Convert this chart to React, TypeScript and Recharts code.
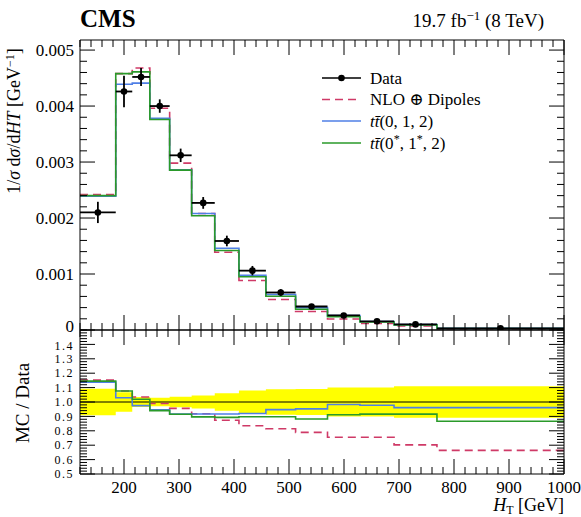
import React from 'react';
import { ComposedChart, Line, Scatter, XAxis, YAxis, ErrorBar, Area, ReferenceLine } from 'recharts';

// ---------- data ----------
const binEdges = [120, 185, 215, 247, 283, 323, 365, 409, 458, 512, 570, 629, 691, 769, 1000];

const dataValues = [0.0021, 0.00426, 0.00452, 0.004, 0.00312, 0.00227, 0.00159, 0.00106, 0.00067, 0.00042, 0.00026, 0.000155, 0.0001, 0.00003];
const dataErrors = [0.00019, 0.00028, 0.00016, 0.00012, 0.00012, 0.000105, 0.000095, 0.000084, 0.000059, 0.000038, 0.000026, 0.0000155, 0.000011, 0.0000033];

const nloDipoles = [0.00242, 0.00458, 0.00468, 0.00396, 0.00298, 0.00208, 0.00139, 0.000885, 0.000545, 0.000331, 0.000196, 0.000117, 0.0000702, 0.00002];
const ttbar012 = [0.00239, 0.00439, 0.00441, 0.00378, 0.00286, 0.00208, 0.00146, 0.000975, 0.000634, 0.0004, 0.000256, 0.000151, 0.0000961, 0.0000288];
const ttbar0s1s2 = [0.0024, 0.00458, 0.00461, 0.00376, 0.002855, 0.00204, 0.00142, 0.000952, 0.000602, 0.00037, 0.000237, 0.000142, 0.0000916, 0.000026];

const ratioBand = [0.092, 0.067, 0.035, 0.029, 0.037, 0.046, 0.06, 0.079, 0.088, 0.09, 0.1, 0.1, 0.109, 0.109];
const ratioNlo = [1.152, 1.076, 1.035, 0.99, 0.956, 0.918, 0.873, 0.835, 0.814, 0.789, 0.755, 0.755, 0.702, 0.664];
const ratio012 = [1.138, 1.03, 0.975, 0.946, 0.917, 0.917, 0.917, 0.92, 0.947, 0.952, 0.983, 0.977, 0.961, 0.961];
const ratio0s1s2 = [1.145, 1.076, 1.019, 0.94, 0.915, 0.897, 0.893, 0.898, 0.898, 0.882, 0.911, 0.916, 0.916, 0.866];

const xMajorTicks = [200, 300, 400, 500, 600, 700, 800, 900, 1000];
const xMinorStep = 20;
const topYMajorTicks = [0, 0.001, 0.002, 0.003, 0.004, 0.005];
const topYMinorStep = 0.0002;
const ratioMajorTicks = [0.5, 0.6, 0.7, 0.8, 0.9, 1.0, 1.1, 1.2, 1.3, 1.4];
const ratioMinorStep = 0.02;

// ---------- layout ----------
const W = 581;
const H = 517;
const PL = 80;
const PR = 564;
const TOP_T = 40;
const TOP_B = 330;
const BOT_B = 474;
const MAJ = 15;
const MIN = 7;
const FONT = '"Liberation Serif", "DejaVu Serif", serif';
const TICK_FS = 17;

const RED = '#cf3a67';
const BLUE = '#4f7fe6';
const GREEN = '#2a9a2a';

// ---------- derived tables ----------
const stepRows = (vals: number[]) => [
  ...vals.map((v, i) => ({ x: binEdges[i], y: v })),
  { x: binEdges[binEdges.length - 1], y: vals[vals.length - 1] },
];
const pointRows = dataValues.map((v, i) => ({
  x: (binEdges[i] + binEdges[i + 1]) / 2,
  y: v,
  xerr: (binEdges[i + 1] - binEdges[i]) / 2,
  yerr: dataErrors[i],
}));
const bandRows = [
  ...ratioBand.map((b, i) => ({ x: binEdges[i], band: [1 - b, 1 + b] })),
  { x: binEdges[binEdges.length - 1], band: [1 - ratioBand[ratioBand.length - 1], 1 + ratioBand[ratioBand.length - 1]] },
];

const range = (lo: number, hi: number, step: number, digits: number) => {
  const out: number[] = [];
  const n = Math.round((hi - lo) / step);
  for (let i = 0; i <= n; i++) out.push(Number((lo + i * step).toFixed(digits)));
  return out;
};
const xTicks = range(binEdges[0], binEdges[binEdges.length - 1], xMinorStep, 0);
const topYTicks = range(0, topYMajorTicks[topYMajorTicks.length - 1], topYMinorStep, 5);
const ratioTicks = range(0.5, 1.5, ratioMinorStep, 2);

const isIn = (arr: number[], v: number) => arr.some((a) => Math.abs(a - v) < 1e-9);

// ---------- tick renderers ----------
const makeXTick = (frameY: number, dir: number, labels: boolean) => (props: any) => {
  const { x, payload } = props;
  const major = isIn(xMajorTicks, payload.value);
  const len = major ? MAJ : MIN;
  return (
    <g>
      <line x1={x} x2={x} y1={frameY} y2={frameY + dir * len} stroke="#000" strokeWidth={1} />
      {labels && major && (
        <text x={x} y={frameY + 19} textAnchor="middle" fontFamily={FONT} fontSize={TICK_FS} fill="#000">
          {payload.value}
        </text>
      )}
    </g>
  );
};

const makeYTick = (
  frameX: number,
  dir: number,
  majors: number[],
  fmt: ((v: number) => string) | null,
  fs: number,
  ls: number,
  shift: (v: number) => number,
) => (props: any) => {
  const { y, payload } = props;
  const major = isIn(majors, payload.value);
  const len = major ? MAJ : MIN;
  return (
    <g>
      <line x1={frameX} x2={frameX + dir * len} y1={y} y2={y} stroke="#000" strokeWidth={1} />
      {fmt && major && (
        <text x={frameX - 6} y={y + shift(payload.value)} dy="0.35em" textAnchor="end" fontFamily={FONT} fontSize={fs} letterSpacing={ls} fill="#000">
          {fmt(payload.value)}
        </text>
      )}
    </g>
  );
};

const DataDot = (props: any) => <circle cx={props.cx} cy={props.cy} r={3.3} fill="#000" />;

const axisLine = { stroke: '#000', strokeWidth: 1 };
const noShift = () => 0;

function TopPanel() {
  return (
    <ComposedChart width={W} height={H} margin={{ top: TOP_T - 1, right: W - PR - 1, bottom: H - TOP_B - 1, left: PL - 1 }}>
      <XAxis xAxisId={0} dataKey="x" type="number" domain={[120, 1000]} ticks={xTicks} interval={0} height={1}
        axisLine={axisLine} tickLine={false} tick={makeXTick(TOP_B, -1, false)} allowDataOverflow />
      <XAxis xAxisId="top" orientation="top" dataKey="x" type="number" domain={[120, 1000]} ticks={xTicks} interval={0} height={1}
        axisLine={axisLine} tickLine={false} tick={makeXTick(TOP_T, 1, false)} allowDataOverflow />
      <YAxis yAxisId={0} type="number" domain={[0, 0.00518]} ticks={topYTicks} interval={0} width={1}
        axisLine={axisLine} tickLine={false}
        tick={makeYTick(PL, 1, topYMajorTicks, (v) => (v === 0 ? '0' : v.toFixed(3)), TICK_FS, 0, (v) => (v === 0 ? -4 : 0))} allowDataOverflow />
      <YAxis yAxisId="right" orientation="right" type="number" domain={[0, 0.00518]} ticks={topYTicks} interval={0} width={1}
        axisLine={axisLine} tickLine={false} tick={makeYTick(PR, -1, topYMajorTicks, null, TICK_FS, 0, noShift)} allowDataOverflow />
      <Line data={stepRows(nloDipoles)} dataKey="y" type="stepAfter" stroke={RED} strokeWidth={1.6} strokeDasharray="8 5" dot={false} isAnimationActive={false} />
      <Line data={stepRows(ttbar012)} dataKey="y" type="stepAfter" stroke={BLUE} strokeWidth={1.6} dot={false} isAnimationActive={false} />
      <Line data={stepRows(ttbar0s1s2)} dataKey="y" type="stepAfter" stroke={GREEN} strokeWidth={1.6} dot={false} isAnimationActive={false} />
      <Scatter data={pointRows} dataKey="y" shape={DataDot} isAnimationActive={false}>
        <ErrorBar dataKey="xerr" direction="x" width={0} stroke="#000" strokeWidth={1.8} isAnimationActive={false} />
        <ErrorBar dataKey="yerr" direction="y" width={0} stroke="#000" strokeWidth={1.8} isAnimationActive={false} />
      </Scatter>
    </ComposedChart>
  );
}

function RatioPanel() {
  return (
    <ComposedChart width={W} height={H} margin={{ top: TOP_B - 1, right: W - PR - 1, bottom: H - BOT_B - 1, left: PL - 1 }}>
      <XAxis xAxisId={0} dataKey="x" type="number" domain={[120, 1000]} ticks={xTicks} interval={0} height={1}
        axisLine={axisLine} tickLine={false} tick={makeXTick(BOT_B, -1, true)} allowDataOverflow />
      <XAxis xAxisId="top" orientation="top" dataKey="x" type="number" domain={[120, 1000]} ticks={xTicks} interval={0} height={1}
        axisLine={axisLine} tickLine={false} tick={makeXTick(TOP_B, 1, false)} allowDataOverflow />
      <YAxis yAxisId={0} type="number" domain={[0.5, 1.5]} ticks={ratioTicks} interval={0} width={1}
        axisLine={axisLine} tickLine={false}
        tick={makeYTick(PL, 1, ratioMajorTicks, (v) => v.toFixed(1), 12, 1.5, (v) => (v > 1.35 ? 1.5 : 0))} allowDataOverflow />
      <YAxis yAxisId="right" orientation="right" type="number" domain={[0.5, 1.5]} ticks={ratioTicks} interval={0} width={1}
        axisLine={axisLine} tickLine={false} tick={makeYTick(PR, -1, ratioMajorTicks, null, 12, 0, noShift)} allowDataOverflow />
      <Area data={bandRows} dataKey="band" type="stepAfter" fill="#ffff00" fillOpacity={1} stroke="none" isAnimationActive={false} />
      <ReferenceLine y={1} stroke="#000" strokeWidth={1} />
      <Line data={stepRows(ratioNlo)} dataKey="y" type="stepAfter" stroke={RED} strokeWidth={1.6} strokeDasharray="8 5" dot={false} isAnimationActive={false} />
      <Line data={stepRows(ratio012)} dataKey="y" type="stepAfter" stroke={BLUE} strokeWidth={1.6} dot={false} isAnimationActive={false} />
      <Line data={stepRows(ratio0s1s2)} dataKey="y" type="stepAfter" stroke={GREEN} strokeWidth={1.6} dot={false} isAnimationActive={false} />
    </ComposedChart>
  );
}

function Overlay() {
  const legendX0 = 322;
  const legendX1 = 361;
  const textX = 370;
  const rows = [78, 99.5, 121, 143];
  const fs = 17;
  return (
    <svg width={W} height={H} style={{ position: 'absolute', left: 0, top: 0, pointerEvents: 'none' }} fontFamily={FONT}>
      <text x={80} y={27} fontSize={25} fontWeight="bold" fill="#000">CMS</text>
      <text x={544} y={27} textAnchor="end" fontSize={19} fill="#000">
        19.7 fb
        <tspan dy={-7} fontSize={13}>−1</tspan>
        <tspan dy={7}> (8 TeV)</tspan>
      </text>

      {/* legend */}
      <line x1={legendX0} x2={legendX1} y1={rows[0]} y2={rows[0]} stroke="#000" strokeWidth={1.5} />
      <circle cx={(legendX0 + legendX1) / 2} cy={rows[0]} r={3.3} fill="#000" />
      <text x={textX} y={rows[0]} dy="0.35em" fontSize={fs}>Data</text>
      <line x1={legendX0} x2={legendX1} y1={rows[1]} y2={rows[1]} stroke={RED} strokeWidth={1.6} strokeDasharray="8 5" />
      <text x={textX} y={rows[1]} dy="0.35em" fontSize={fs}>NLO ⊕ Dipoles</text>
      <line x1={legendX0} x2={legendX1} y1={rows[2]} y2={rows[2]} stroke={BLUE} strokeWidth={1.6} />
      <text x={textX} y={rows[2]} dy="0.35em" fontSize={fs}>
        <tspan fontStyle="italic">tt̄</tspan>(0, 1, 2)
      </text>
      <line x1={legendX0} x2={legendX1} y1={rows[3]} y2={rows[3]} stroke={GREEN} strokeWidth={1.6} />
      <text x={textX} y={rows[3]} dy="0.35em" fontSize={fs}>
        <tspan fontStyle="italic">tt̄</tspan>(0<tspan dy={-6} fontSize={12}>*</tspan><tspan dy={6}>, 1</tspan><tspan dy={-6} fontSize={12}>*</tspan><tspan dy={6}>, 2)</tspan>
      </text>

      {/* axis titles */}
      <text transform="translate(20,121) rotate(-90)" textAnchor="middle" fontSize={18}>
        1/<tspan fontStyle="italic">σ</tspan> d<tspan fontStyle="italic">σ</tspan>/d<tspan fontStyle="italic">HT</tspan> [GeV<tspan dy={-6} fontSize={12}>−1</tspan><tspan dy={6}>]</tspan>
      </text>
      <text transform="translate(29,403) rotate(-90)" textAnchor="middle" fontSize={19}>MC / Data</text>
      <text x={PR} y={511} textAnchor="end" fontSize={18}>
        <tspan fontStyle="italic">H</tspan><tspan dy={3} fontSize={12}>T</tspan><tspan dy={-3}> [GeV]</tspan>
      </text>
    </svg>
  );
}

export default function App() {
  return (
    <div style={{ position: 'absolute', left: 0, top: 0, width: W, height: H, background: '#fff', overflow: 'hidden' }}>
      <div style={{ position: 'absolute', left: 0, top: 0 }}>
        <TopPanel />
      </div>
      <div style={{ position: 'absolute', left: 0, top: 0 }}>
        <RatioPanel />
      </div>
      <Overlay />
    </div>
  );
}
